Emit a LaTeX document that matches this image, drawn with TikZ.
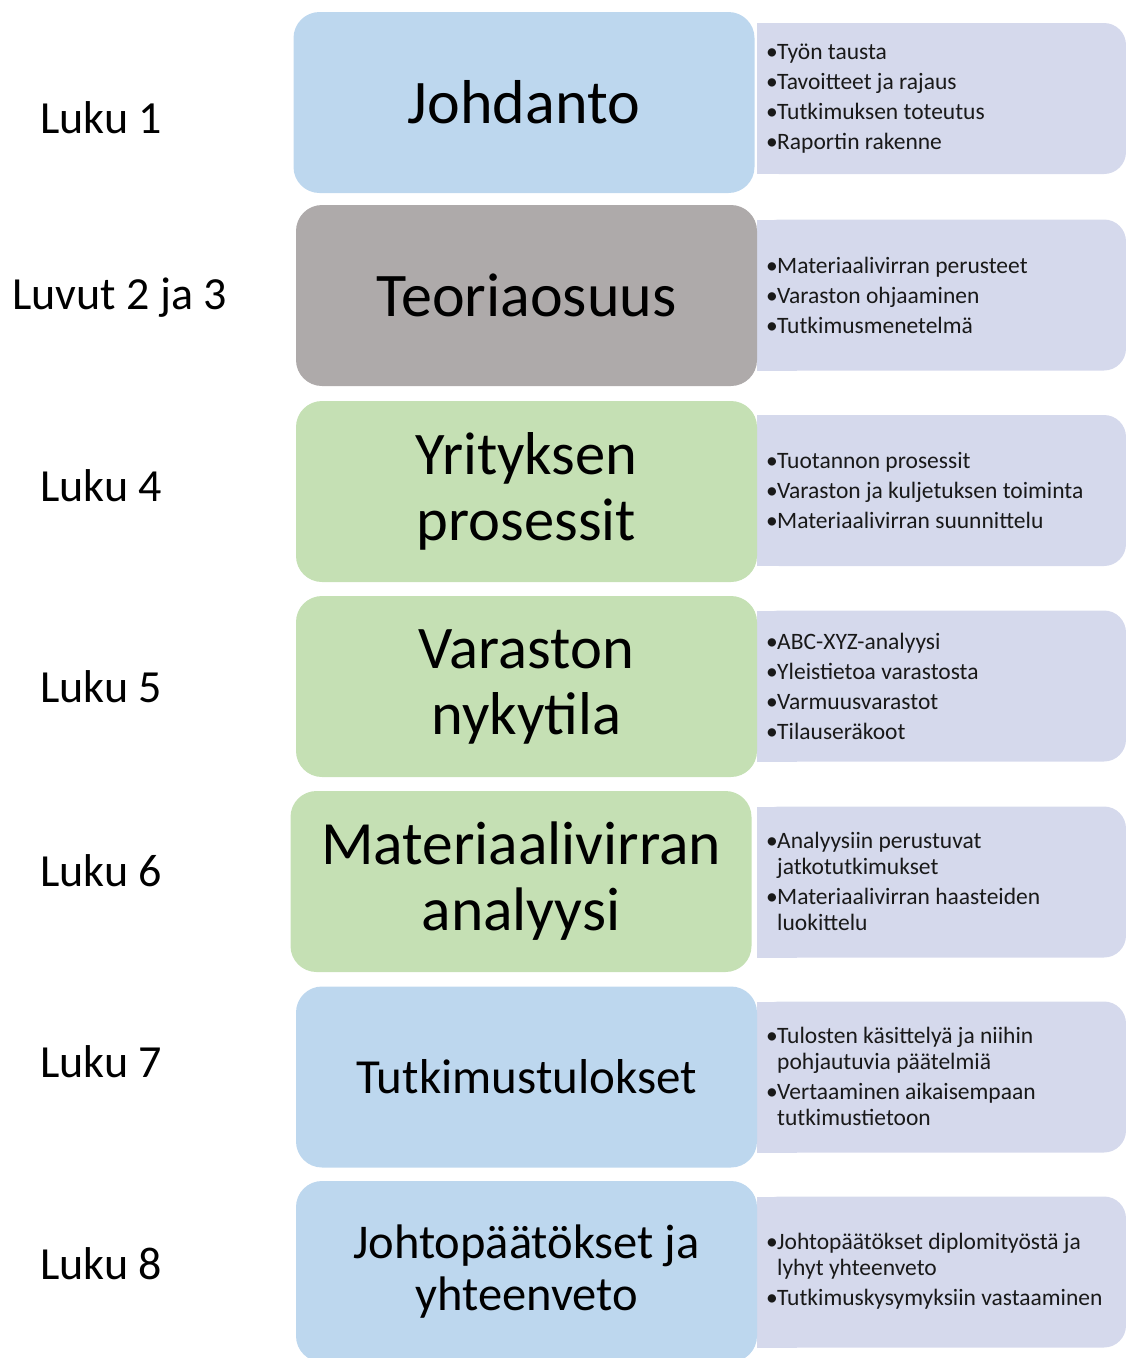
\documentclass[tikz,border=0pt]{standalone}
\usepackage{fontspec}
\setmainfont{Carlito}
\definecolor{blu}{HTML}{BDD7EE}
\definecolor{gry}{HTML}{AEAAAA}
\definecolor{grn}{HTML}{C5E0B4}
\definecolor{lav}{HTML}{D5D9EC}
\newcommand\bul{\makebox[11pt][l]{•}}
\newcommand\ind{\hspace*{11pt}}
\newcommand\itemgap{\\[4pt]}
\begin{document}
\begin{tikzpicture}[x=1pt,y=-1pt,
  mainbox/.style={fill=#1, draw=none, rounded corners=26pt, inner sep=0pt, outer sep=0pt,
    minimum width=461pt, minimum height=181pt, align=center, text=black},
  bigtext/.style={font=\fontsize{62}{67}\selectfont},
  sidebox/.style={fill=lav, draw=none, rounded corners=22pt, inner sep=0pt, outer sep=0pt,
    minimum width=369pt, minimum height=151pt},
  sidetext/.style={anchor=west, align=left, inner sep=0pt, font=\fontsize{23.5}{26}\selectfont, text=black!90},
  chap/.style={anchor=base west, inner sep=0pt, font=\fontsize{46}{50}\selectfont}
]
\useasboundingbox (0,0) rectangle (1126,1358);
\clip (0,0) rectangle (1126,1358);

% side panels with the chapter contents (square on the left side)
\foreach \i/\cy in {1/98.5, 2/295, 3/490.5, 4/686, 5/882, 6/1077, 7/1272}{
  \node[sidebox] (s\i) at (941.5,\cy) {};
  \fill[lav] (s\i.north west) rectangle ([xshift=40pt]s\i.south west);
}

% chapter blocks
\node[mainbox=blu, bigtext] (b1) at (524,102.5) {Johdanto};
\node[mainbox=gry, bigtext] (b2) at (526.5,295.5) {Teoriaosuus};
\node[mainbox=grn, font=\fontsize{60.5}{66}\selectfont] (b3) at (526.5,491.5) {Yrityksen\\prosessit};
\node[mainbox=grn, font=\fontsize{60.5}{66}\selectfont] (b4) at (526.5,686.5) {Varaston\\nykytila};
\node[mainbox=grn, font=\fontsize{61.5}{66}\selectfont] (b5) at (521,881.5) {Materiaalivirran\\analyysi};
\node[mainbox=blu, font=\fontsize{49}{54}\selectfont] (b6) at (526.5,1077) {Tutkimustulokset};
\node[mainbox=blu, font=\fontsize{48.5}{52}\selectfont] (b7) at (526.5,1271.5) {Johtopäätökset ja\\yhteenveto};

% chapter numbers
\node[chap] (l1) at (40,133) {Luku 1};
\node[chap] (l2) at (12,309) {Luvut 2 ja 3};
\node[chap] (l3) at (40,501) {Luku 4};
\node[chap] (l4) at (40,702) {Luku 5};
\node[chap] (l5) at (40,886) {Luku 6};
\node[chap] (l6) at (40,1077) {Luku 7};
\node[chap] (l7) at (40,1279) {Luku 8};

% contents of each chapter
\node[sidetext] (t1) at (766,98.5) {\bul Työn tausta\itemgap\bul Tavoitteet ja rajaus\itemgap\bul Tutkimuksen toteutus\itemgap\bul Raportin rakenne};
\node[sidetext] (t2) at (766,295) {\bul Materiaalivirran perusteet\itemgap\bul Varaston ohjaaminen\itemgap\bul Tutkimusmenetelmä};
\node[sidetext] (t3) at (766,490.5) {\bul Tuotannon prosessit\itemgap\bul Varaston ja kuljetuksen toiminta\itemgap\bul Materiaalivirran suunnittelu};
\node[sidetext] (t4) at (766,686) {\bul ABC-XYZ-analyysi\itemgap\bul Yleistietoa varastosta\itemgap\bul Varmuusvarastot\itemgap\bul Tilauseräkoot};
\node[sidetext] (t5) at (766,881) {\bul Analyysiin perustuvat\\\ind jatkotutkimukset\itemgap\bul Materiaalivirran haasteiden\\\ind luokittelu};
\node[sidetext] (t6) at (766,1076) {\bul Tulosten käsittelyä ja niihin\\\ind pohjautuvia päätelmiä\itemgap\bul Vertaaminen aikaisempaan\\\ind tutkimustietoon};
\node[sidetext] (t7) at (766,1271) {\bul Johtopäätökset diplomityöstä ja\\\ind lyhyt yhteenveto\itemgap\bul Tutkimuskysymyksiin vastaaminen};
\end{tikzpicture}
\end{document}
